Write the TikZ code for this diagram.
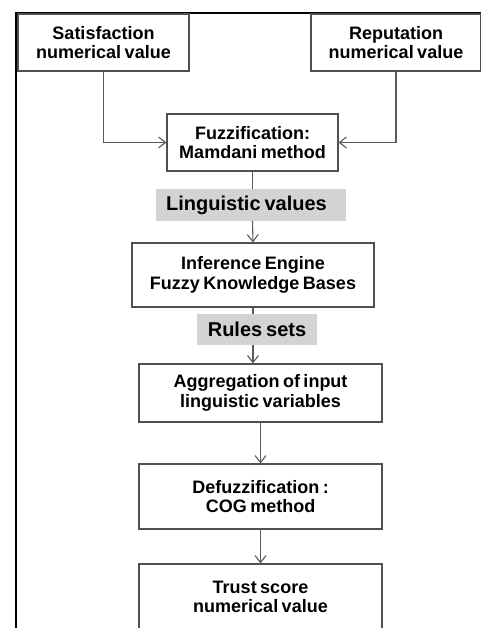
\documentclass[tikz,border=0pt]{standalone}
\usepackage{fontspec}
\setmainfont{Liberation Sans}[WordSpace=0.7]
\usetikzlibrary{arrows.meta}

\definecolor{edgegray}{HTML}{5A5A5A}
\definecolor{boxgray}{HTML}{505050}
\definecolor{tagfill}{HTML}{D3D3D3}

\begin{document}
\begin{tikzpicture}[x=1pt,y=-1pt,
  stepbox/.style={draw=boxgray, line width=1.2pt, fill=white, align=center,
    inner sep=0pt, font=\fontsize{18}{19.5}\selectfont\bfseries},
  tagbox/.style={fill=tagfill, draw=none, align=center, inner sep=0pt,
    font=\fontsize{20}{22}\selectfont\bfseries},
  link/.style={draw=edgegray, line width=1.1pt},
  flow/.style={link, -{Straight Barb[length=7pt,width=11pt]}}]

\useasboundingbox (0,0) rectangle (481,628);
\clip (0,0) rectangle (481,628);

% outer frame, open towards the right and bottom
\draw[line width=2.5pt, black] (16,650) -- (16,13) -- (500,13);

% inputs
\node[stepbox, minimum width=171pt, minimum height=57pt] (sat) at (103.5,42.5)
  {Satisfaction\\numerical value};
\node[stepbox, minimum width=170pt, minimum height=57pt] (rep) at (396,42.5)
  {Reputation\\numerical value};

% fuzzy inference chain
\node[stepbox, minimum width=171pt, minimum height=57pt] (fuzz) at (252.5,142.5)
  {Fuzzification:\\Mamdani method};
\node[tagbox, minimum width=190pt, minimum height=32pt] (ling) at (251,205)
  {Linguistic values\hspace{9pt}};
\node[stepbox, minimum width=242pt, minimum height=64pt] (inf) at (253,275)
  {Inference Engine\\Fuzzy Knowledge Bases};
\node[tagbox, minimum width=120pt, minimum height=31pt] (rules) at (257,329.5)
  {Rules sets};
\node[stepbox, minimum width=243pt, minimum height=58pt] (agg) at (260.5,393)
  {Aggregation of input\\linguistic variables};
\node[stepbox, minimum width=243pt, minimum height=65pt] (defuzz) at (260.5,496.5)
  {Defuzzification :\\COG method};
\node[stepbox, minimum width=243pt, minimum height=66pt] (trust) at (260.5,597)
  {Trust score\\numerical value};

% connectors
\draw[flow] (sat.south) |- (fuzz.west);
\draw[flow] (rep.south) |- (fuzz.east);
\draw[link] (fuzz.south) -- (fuzz.south |- ling.north);
\draw[flow] (fuzz.south |- ling.south) -- (inf.north);
\draw[link] (inf.south) -- (inf.south |- rules.north);
\draw[flow] (inf.south |- rules.south) -- (inf.south |- agg.north);
\draw[flow] (agg.south) -- (defuzz.north);
\draw[flow] (defuzz.south) -- (trust.north);
\end{tikzpicture}
\end{document}
